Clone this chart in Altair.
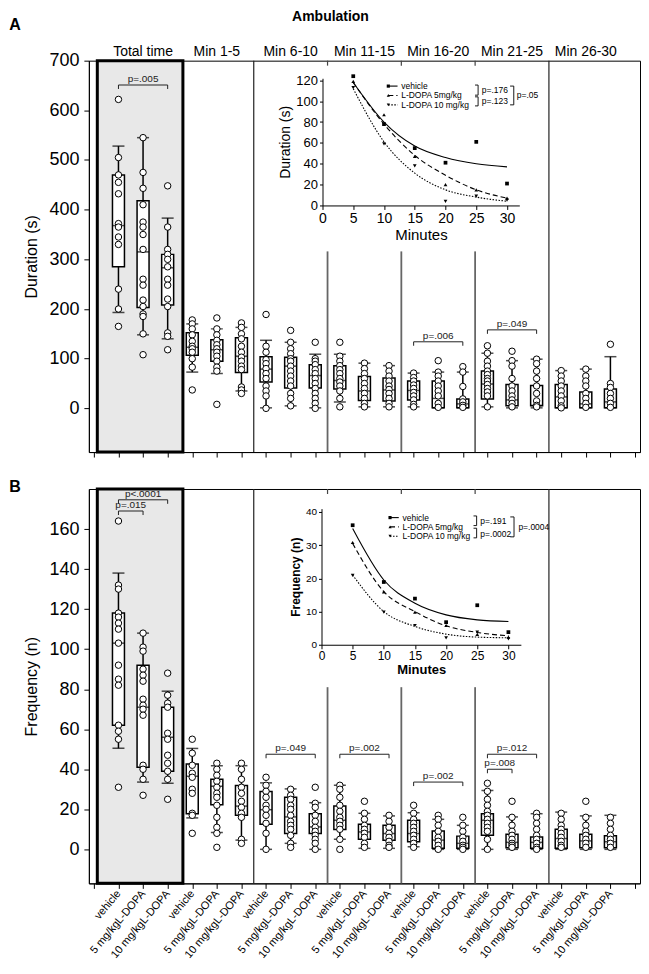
import json
import altair as alt
import pandas as pd

FONT = "Liberation Sans"

groups = ["Total time", "Min 1-5", "Min 6-10", "Min 11-15", "Min 16-20", "Min 21-25", "Min 26-30"]
treatments = ["vehicle", "5 mg/kgL-DOPA", "10 mg/kgL-DOPA"]

# ---------------- Panel A : duration (s) box summaries, 21 columns ----------------
dur_hi = [528, 545, 383, 170, 160, 163, 137, 133, 109, 109, 91, 86, 71, 73, 73, 111, 96, 99, 76, 79, 104]
dur_q3 = [470, 418, 310, 152, 138, 142, 104, 103, 88, 86, 64, 61, 55, 55, 19, 75, 48, 46, 48, 33, 39]
dur_med = [368, 315, 283, 123, 118, 105, 79, 85, 66, 56, 35, 37, 36, 20, 9, 49, 17, 6, 23, 9, 13]
dur_q1 = [285, 203, 208, 107, 95, 72, 53, 41, 41, 39, 16, 15, 17, 1, 1, 19, 5, 5, 1, 1, 1]
dur_lo = [193, 148, 140, 73, 70, 35, 1, 5, 1, 13, 3, 3, 3, 1, 1, 3, 1, 1, 1, 1, 1]
dur_points = [
    [622, 505, 470, 455, 432, 372, 365, 345, 330, 240, 200, 165],
    [545, 475, 443, 410, 375, 365, 350, 320, 260, 248, 218, 205, 190, 185, 150, 108],
    [448, 365, 320, 310, 300, 285, 260, 248, 220, 205, 152, 145, 118],
    [178, 170, 160, 148, 135, 125, 120, 113, 100, 83, 37],
    [182, 160, 148, 137, 128, 120, 113, 105, 95, 83, 75, 8],
    [172, 163, 150, 140, 125, 113, 103, 95, 85, 78, 43, 37, 30],
    [189, 125, 113, 98, 90, 80, 70, 60, 45, 35, 25, 0],
    [157, 133, 120, 110, 100, 95, 85, 75, 65, 55, 45, 30, 20, 5],
    [133, 100, 95, 88, 78, 70, 60, 50, 40, 30, 20, 10, 0],
    [133, 105, 95, 86, 78, 70, 60, 53, 45, 35, 20, 3],
    [91, 80, 70, 60, 50, 40, 30, 20, 10, 3],
    [86, 75, 65, 55, 45, 38, 30, 20, 10, 3],
    [71, 62, 55, 47, 40, 32, 25, 17, 8, 3],
    [96, 73, 65, 55, 45, 35, 25, 10, 2],
    [84, 73, 44, 19, 13, 6, 2],
    [126, 111, 95, 85, 75, 68, 60, 55, 48, 40, 33, 25, 3],
    [115, 96, 85, 60, 45, 35, 25, 17, 10, 3],
    [99, 90, 75, 60, 45, 30, 15, 6, 3],
    [76, 65, 55, 45, 35, 25, 15, 5, 1],
    [79, 65, 55, 45, 30, 20, 10, 2],
    [129, 50, 42, 30, 20, 10, 2],
]
dur_brackets = [(0, 2, 651, "p=.005"), (12, 14, 134, "p=.006"), (15, 17, 158, "p=.049")]

# ---------------- Panel B : frequency (n) ----------------
freq_hi = [138, 108, 79, 50.4, 41.8, 41.8, 33.2, 30.2, 23.3, 32, 18, 16.7, 18.3, 15, 12, 29.4, 16.2, 17.8, 18.6, 16.7, 17]
freq_q3 = [118, 92, 71, 42.6, 35, 31.9, 28.9, 26, 17.8, 21.6, 12.5, 12, 14.5, 9.2, 6.6, 17.8, 7.5, 6.2, 10, 7.5, 6.8]
freq_med = [103, 71, 56, 36.5, 31.5, 21.6, 19.8, 16.2, 11.2, 14.5, 8.7, 7.9, 7.9, 4.6, 3, 14.5, 3.5, 3.5, 5.4, 4.2, 3.8]
freq_q1 = [62, 41, 39, 17.8, 22.3, 17, 12.5, 7.9, 7.9, 9.9, 5, 4.6, 3.8, 0.5, 0.5, 7, 0.8, 0.5, 0.5, 0.8, 0.8]
freq_lo = [50.5, 33.6, 33, 15.7, 8.4, 4.6, 0, 3, 0, 5, 0.5, 0.5, 1.3, 0, 0, 0, 0, 0, 0, 0, 0]
freq_points = [
    [164, 132, 130, 118, 116, 113, 110, 103, 92, 85, 82, 62, 59, 55, 31],
    [108, 101, 99, 90, 87, 84, 75, 72, 70, 67, 42, 40, 35, 27],
    [88, 77, 73, 71, 58, 55, 47, 43, 39, 35, 25],
    [55, 48, 42, 38, 36, 30, 28, 18, 17, 8],
    [43, 40, 37, 34, 31, 28, 26, 22, 16, 11, 8, 1],
    [43, 40, 35, 31, 28, 24, 21, 18, 16, 5, 3],
    [36, 32, 29, 26, 22, 20, 17, 13, 8, 0],
    [30, 27, 25, 22, 20, 17, 14, 12, 10, 7, 3, 1],
    [31, 23, 21, 17, 14, 11, 9, 7, 5, 3, 0],
    [32, 30, 26, 22, 19, 16, 14, 12, 10, 5, 0],
    [24, 18, 15, 12, 10, 8, 6, 3, 1],
    [17, 14, 11, 8, 6, 4, 2, 1],
    [22, 18, 15, 13, 11, 9, 7, 5, 3, 1],
    [17, 15, 12, 9, 6, 4, 2, 0],
    [16, 12, 9, 6, 4, 2, 1, 0],
    [33, 29, 25, 22, 19, 17, 15, 13, 11, 9, 5, 0],
    [24, 16, 12, 9, 7, 5, 3, 2, 1],
    [18, 16, 13, 10, 7, 5, 3, 1, 0],
    [18, 15, 12, 10, 8, 6, 4, 2, 1],
    [24, 16, 12, 9, 7, 5, 3, 1],
    [16, 13, 10, 7, 5, 3, 1],
]
freq_brackets = [(0, 2, 174.6, "p<.0001"), (0, 1, 169, "p=.015"), (6, 8, 47.5, "p=.049"),
                 (9, 11, 47.5, "p=.002"), (12, 14, 33.6, "p=.002"), (15, 17, 47.5, "p=.012"),
                 (15, 16, 40, "p=.008")]

# ---------------- Insets ----------------
series = ["vehicle", "L-DOPA 5mg/kg", "L-DOPA 10 mg/kg"]
minutes = [5, 10, 15, 20, 25, 30]
dur_obs = {"vehicle": [124, 78, 55, 41, 61, 21],
           "L-DOPA 5mg/kg": [119, 87, 47, 20, 15, 7],
           "L-DOPA 10 mg/kg": [113, 59, 38, 4, 9, 5]}
dur_fit = {"vehicle": [118, 80, 57, 46, 40, 37],
           "L-DOPA 5mg/kg": [118, 78, 48, 29, 15, 7],
           "L-DOPA 10 mg/kg": [112, 61, 31, 15, 8, 4]}
freq_obs = {"vehicle": [36, 18.9, 13.9, 6.8, 11.9, 3.8],
            "L-DOPA 5mg/kg": [30.8, 15.9, 9.8, 5.8, 3.1, 2.3],
            "L-DOPA 10 mg/kg": [20.9, 9.8, 5.8, 2.1, 3.8, 1.8]}
freq_fit = {"vehicle": [35, 19.5, 12.5, 9, 7.5, 7],
            "L-DOPA 5mg/kg": [30.5, 16, 10, 5.7, 3.7, 2.7],
            "L-DOPA 10 mg/kg": [21, 10, 5.5, 3.2, 2.3, 2.1]}
dur_inset_p = [("p=.176", "p=.123"), "p=.05"]
freq_inset_p = [("p=.191", "p=.0002"), "p=.0004"]

W = 552
HA = 392
HB = 395
DASH = {"vehicle": None, "L-DOPA 5mg/kg": [5, 3], "L-DOPA 10 mg/kg": [1.5, 1.5]}
SHAPES = ["square", "triangle-up", "triangle-down"]


def line_kw(s):
    kw = dict(color="black", strokeWidth=1.1)
    if DASH[s] is not None:
        kw["strokeDash"] = DASH[s]
    return kw


def main_layers(lo, q1, med, q3, hi, points, brackets, ydom, yvals, ytitle, show_labels,
                sep_break, stub, tick_len, extra):
    xscale = alt.Scale(domain=[-1, 21], nice=False, zero=False)
    yscale = alt.Scale(domain=ydom, nice=False, zero=False)
    label_expr = ("datum.value >= 0 && datum.value <= 20 ? "
                  + json.dumps(treatments) + "[datum.value % 3] : ''")
    xaxis = alt.Axis(values=list(range(-1, 22)), labels=show_labels, labelExpr=label_expr,
                     labelAngle=-50, labelAlign="right", labelBaseline="middle", labelFontSize=11,
                     labelPadding=3, labelOverlap=False, tickSize=5, tickColor="black",
                     domainColor="black", labelColor="black", grid=False, title=None)
    yaxis = alt.Axis(values=yvals, tickSize=5, labelFontSize=18, labelPadding=5, title=ytitle,
                     titleFontSize=16, titleFontWeight="normal", titlePadding=9, grid=False,
                     domainColor="black", tickColor="black", labelColor="black", titleColor="black")

    def X(f):
        return alt.X(f, type="quantitative", scale=xscale, axis=xaxis)

    def Y(f):
        return alt.Y(f, type="quantitative", scale=yscale, axis=yaxis)

    grey = alt.Chart(pd.DataFrame({"x0": [-0.86], "x1": [2.62], "y0": [ydom[0]], "y1": [ydom[1]]})).mark_rect(
        fill="#e8e8e8", stroke="black", strokeWidth=3).encode(x=X("x0"), x2="x1", y=Y("y0"), y2="y1")

    full = alt.Chart(pd.DataFrame({"x": [5.5, 17.5], "y0": [ydom[0]] * 2, "y1": [ydom[1]] * 2})).mark_rule(
        color="#222", strokeWidth=1.2).encode(x=X("x"), y=Y("y0"), y2="y1")
    part = alt.Chart(pd.DataFrame({"x": [8.5, 11.5, 14.5], "y0": [ydom[0]] * 3, "y1": [sep_break] * 3})).mark_rule(
        color="#666", strokeWidth=1.8).encode(x=X("x"), y=Y("y0"), y2="y1")
    stubs = alt.Chart(pd.DataFrame({"x": [8.5, 11.5, 14.5], "y0": [ydom[1]] * 3, "y1": [ydom[1] - stub] * 3})).mark_rule(
        color="#444", strokeWidth=1.2).encode(x=X("x"), y=Y("y0"), y2="y1")

    bdf = pd.DataFrame({"i": list(range(21)), "lo": lo, "q1": q1, "med": med, "q3": q3, "hi": hi})
    whisk = alt.Chart(bdf).mark_rule(color="black", strokeWidth=1.5).encode(x=X("i"), y=Y("lo"), y2="hi")
    box = alt.Chart(bdf).mark_bar(size=12, fill="white", stroke="black", strokeWidth=1.5).encode(
        x=X("i"), y=Y("q1"), y2="q3")
    medt = alt.Chart(bdf).mark_tick(orient="horizontal", size=12, thickness=1.5, color="black").encode(
        x=X("i"), y=Y("med"))
    caph = alt.Chart(bdf).mark_tick(orient="horizontal", size=12, thickness=1.5, color="black").encode(
        x=X("i"), y=Y("hi"))
    capl = alt.Chart(bdf).mark_tick(orient="horizontal", size=12, thickness=1.5, color="black").encode(
        x=X("i"), y=Y("lo"))
    pdf = pd.DataFrame([{"i": i, "v": v} for i, col in enumerate(points) for v in col])
    pts = alt.Chart(pdf).mark_point(shape="circle", filled=True, fill="white", stroke="black",
                                    strokeWidth=1, size=42, opacity=1).encode(x=X("i"), y=Y("v"))

    brdf = pd.DataFrame([{"a": a, "b": b, "y": y, "yt": y - tick_len, "m": (a + b) / 2, "t": t}
                         for a, b, y, t in brackets])
    br_h = alt.Chart(brdf).mark_rule(color="#222", strokeWidth=1).encode(x=X("a"), x2="b", y=Y("y"))
    br_a = alt.Chart(brdf).mark_rule(color="#222", strokeWidth=1).encode(x=X("a"), y=Y("y"), y2="yt")
    br_b = alt.Chart(brdf).mark_rule(color="#222", strokeWidth=1).encode(x=X("b"), y=Y("y"), y2="yt")
    br_t = alt.Chart(brdf).mark_text(fontSize=10, baseline="bottom", dy=-1, color="#222").encode(
        x=X("m"), y=Y("y"), text="t:N")

    layers = [grey, full, part, stubs, whisk, box, medt, caph, capl, pts, br_h, br_a, br_b, br_t]
    for e in extra(X):
        layers.append(e)
    return alt.layer(*layers)


def inset_layers(obs, fit, H, x0, pxu, y0, pyu, xmax, ymax, yvals, ytitle, lfx, lfy, tfx, tfy, tw,
                 leg_y, leg_x, leg_fs, inner, outer, pv):
    xs = alt.Scale(domain=[0, xmax], range=[x0, x0 + xmax * pxu], nice=False, zero=False)
    ys = alt.Scale(domain=[0, ymax], range=[y0, y0 - ymax * pyu], nice=False, zero=False)
    xa = alt.Axis(orient="bottom", offset=y0 - H, values=[0, 5, 10, 15, 20, 25, 30], title="Minutes",
                  tickSize=4, labelFontSize=lfx, titleFontSize=tfx, titleFontWeight=tw, labelPadding=2,
                  titlePadding=2, grid=False, domainColor="black", tickColor="black",
                  labelColor="black", titleColor="black", labelFlush=False)
    ya = alt.Axis(orient="left", offset=-x0, values=yvals, title=ytitle, tickSize=3, labelFontSize=lfy,
                  titleFontSize=tfy, titleFontWeight=tw, labelPadding=2, titlePadding=3, grid=False,
                  domainColor="black", tickColor="black", labelColor="black", titleColor="black")

    def X(f):
        return alt.X(f, type="quantitative", scale=xs, axis=xa)

    def Y(f):
        return alt.Y(f, type="quantitative", scale=ys, axis=ya)

    shape = alt.Shape("s:N", scale=alt.Scale(domain=series, range=SHAPES), legend=None)
    layers = []
    for s in series:
        fdf = pd.DataFrame({"m": minutes, "v": fit[s]})
        layers.append(alt.Chart(fdf).mark_line(interpolate="monotone", **line_kw(s)).encode(
            x=X("m"), y=Y("v")))
    odf = pd.DataFrame([{"m": m, "v": v, "s": s} for s in series for m, v in zip(minutes, obs[s])])
    layers.append(alt.Chart(odf).mark_point(filled=True, color="black", size=14, opacity=1).encode(
        x=X("m"), y=Y("v"), shape=shape))

    # legend
    for s, yy in zip(series, leg_y):
        ldf = pd.DataFrame({"a": [leg_x[0]], "b": [leg_x[1]], "y": [yy]})
        layers.append(alt.Chart(ldf).mark_rule(**line_kw(s)).encode(x=X("a"), x2="b", y=Y("y")))
    lpdf = pd.DataFrame({"x": [leg_x[0]] * 3, "y": leg_y, "s": series})
    layers.append(alt.Chart(lpdf).mark_point(filled=True, color="black", size=10, opacity=1).encode(
        x=X("x"), y=Y("y"), shape=shape))
    ltdf = pd.DataFrame({"x": [leg_x[2]] * 3, "y": leg_y, "t": series})
    layers.append(alt.Chart(ltdf).mark_text(align="left", baseline="middle", fontSize=leg_fs).encode(
        x=X("x"), y=Y("y"), text="t:N"))

    # brackets "]"
    segs = []
    for (bx, ya_, yb_, w) in inner + [outer]:
        segs += [(bx - w, bx, ya_, ya_), (bx, bx, ya_, yb_), (bx - w, bx, yb_, yb_)]
    sdf = pd.DataFrame(segs, columns=["x", "x2", "y", "y2"])
    layers.append(alt.Chart(sdf).mark_rule(color="black", strokeWidth=0.9).encode(
        x=X("x"), x2="x2", y=Y("y"), y2="y2"))
    tdf = pd.DataFrame(pv, columns=["x", "y", "t"])
    layers.append(alt.Chart(tdf).mark_text(align="left", baseline="middle", fontSize=leg_fs).encode(
        x=X("x"), y=Y("y"), text="t:N"))
    return alt.layer(*layers)


def extra_A(X):
    hdf = pd.DataFrame({"g": groups, "c": [3 * k + 1 for k in range(len(groups))]})
    head = alt.Chart(hdf).mark_text(fontSize=14, baseline="middle").encode(
        x=X("c"), y=alt.value(-9), text="g:N")
    title = alt.Chart(pd.DataFrame({"t": ["Ambulation"]})).mark_text(
        fontSize=14, fontWeight="bold", baseline="middle").encode(x=alt.value(242), y=alt.value(-44), text="t:N")
    letter = alt.Chart(pd.DataFrame({"t": ["A"]})).mark_text(
        fontSize=16, fontWeight="bold", baseline="middle").encode(x=alt.value(-74), y=alt.value(-36), text="t:N")
    return [head, title, letter]


def extra_B(X):
    letter = alt.Chart(pd.DataFrame({"t": ["B"]})).mark_text(
        fontSize=16, fontWeight="bold", baseline="middle").encode(x=alt.value(-74), y=alt.value(-2), text="t:N")
    return [letter]


mainA = main_layers(dur_lo, dur_q1, dur_med, dur_q3, dur_hi, dur_points, dur_brackets,
                    [-88, 700], list(range(0, 701, 100)), "Duration (s)", False, 316, 10, 8, extra_A)
insetA = inset_layers(dur_obs, dur_fit, HA, 234, 6.16, 145, 1.044, 32, 122, list(range(0, 121, 20)),
                      "Duration (s)", 14, 13, 15, 14, "normal",
                      [114.5, 105.5, 96.5], [10.7, 12.2, 12.8], 8.5,
                      [(25.3, 115.5, 105.8, 0.5), (25.3, 104.2, 95.5, 0.5)], (31.1, 114.5, 96.5, 0.6),
                      [(25.9, 110.5, dur_inset_p[0][0]), (25.9, 100, dur_inset_p[0][1]),
                       (31.6, 105.5, dur_inset_p[1])])
panelA = alt.layer(mainA, insetA).resolve_scale(x="independent", y="independent").properties(
    width=W, height=HA)

mainB = main_layers(freq_lo, freq_q1, freq_med, freq_q3, freq_hi, freq_points, freq_brackets,
                    [-17, 180], list(range(0, 161, 20)), "Frequency (n)", True, 81, 2.5, 2, extra_B)
insetB = inset_layers(freq_obs, freq_fit, HB, 233, 6.24, 156, 3.325, 32, 41, list(range(0, 41, 10)),
                      "Frequency (n)", 12, 10, 13, 12, "bold",
                      [38.3, 35.5, 32.7], [11.0, 12.4, 13.0], 8.5,
                      [(24.9, 38.8, 35.9, 0.5), (24.9, 35.1, 32.2, 0.5)], (30.9, 38.5, 32.5, 0.6),
                      [(25.5, 37.3, freq_inset_p[0][0]), (25.5, 33.5, freq_inset_p[0][1]),
                       (31.6, 35.5, freq_inset_p[1])])
panelB = alt.layer(mainB, insetB).resolve_scale(x="independent", y="independent").properties(
    width=W, height=HB)

chart = alt.vconcat(panelA, panelB, spacing=20).properties(
    padding={"left": 0, "top": 0, "right": 0, "bottom": 0}
).configure(font=FONT).configure_view(stroke="black", strokeWidth=1).configure_axis(
    labelFont=FONT, titleFont=FONT).configure_text(font=FONT, color="black")

chart.save("out.html", embed_options={"renderer": "svg", "actions": False})
